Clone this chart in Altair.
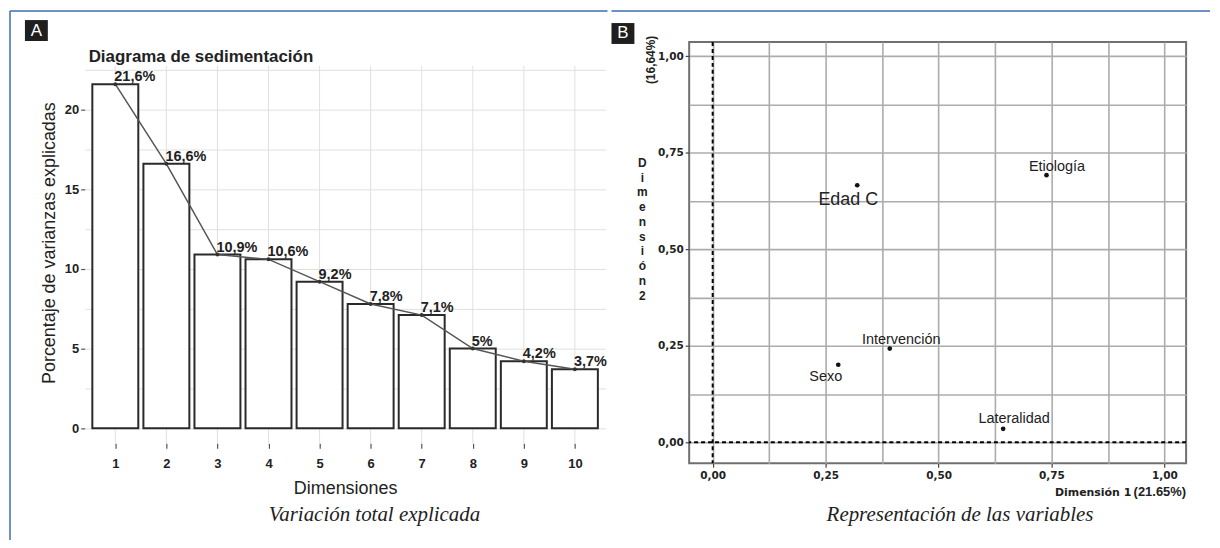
import altair as alt
import pandas as pd

# ---------------- data ----------------
dims = [1, 2, 3, 4, 5, 6, 7, 8, 9, 10]
var_pct = [21.6, 16.6, 10.9, 10.6, 9.2, 7.8, 7.1, 5.0, 4.2, 3.7]
pct_labels = ["21,6%", "16,6%", "10,9%", "10,6%", "9,2%", "7,8%", "7,1%", "5%", "4,2%", "3,7%"]
y_ticks_a = [0, 2.5, 5, 7.5, 10, 12.5, 15, 17.5, 20, 22.5]

var_names = ["Edad C", "Etiología", "Intervención", "Sexo", "Lateralidad"]
dim1 = [0.32, 0.739, 0.392, 0.278, 0.643]
dim2 = [0.666, 0.692, 0.243, 0.201, 0.035]
ticks_b = [0, 0.125, 0.25, 0.375, 0.5, 0.625, 0.75, 0.875, 1.0]

# ---------------- styles ----------------
BORDER = "#3a6db5"
INK = "#222222"
NARROW = "Liberation Sans Narrow, Liberation Sans, Arial Narrow, sans-serif"
SANS = "Liberation Sans, Arial, sans-serif"
WIDE = "DejaVu Sans, Verdana, sans-serif"
SERIF = "Liberation Serif, Times New Roman, serif"

WA, HA = 523, 403
WB, HB = 499, 423

label_style = {
    "Edad C": dict(dx=-9, dy=15, size=18),
    "Etiología": dict(dx=10.5, dy=-8, size=14.5),
    "Intervención": dict(dx=11.5, dy=-8.5, size=14.5),
    "Sexo": dict(dx=-12.5, dy=12.5, size=14.5),
    "Lateralidad": dict(dx=11, dy=-9.5, size=14.5),
}

one = pd.DataFrame({"k": [0]})

# ================= Panel A =================
dfA = pd.DataFrame({"dim": dims, "pct": var_pct, "label": pct_labels})
xA_scale = alt.Scale(domain=[0.4, 10.6], nice=False, zero=False)
yA_scale = alt.Scale(domain=[-0.95, 24.25], nice=False, zero=False)

xA_axis = alt.Axis(values=dims, grid=False, domain=False,
                   tickColor="#555", tickSize=5, tickWidth=1.2,
                   labelFont=NARROW, labelFontSize=13, labelFontWeight="bold", labelColor=INK,
                   labelPadding=9, title="Dimensiones", titleFont=SANS, titleFontSize=18,
                   titleFontWeight="normal", titleColor=INK, titlePadding=9)
yA_axis = alt.Axis(values=y_ticks_a, grid=True, gridColor="#e0e0e0", gridWidth=1, domain=False,
                   tickColor="#555", tickSize=4, tickWidth=1.2,
                   tickOpacity={"condition": {"test": "datum.value % 5 == 0", "value": 1}, "value": 0},
                   labelExpr="datum.value % 5 == 0 ? format(datum.value, 'd') : ''",
                   labelFont=NARROW, labelFontSize=13, labelFontWeight="bold", labelColor=INK,
                   labelPadding=2, title="Porcentaje de varianzas explicadas", titleFont=SANS,
                   titleFontSize=18, titleFontWeight="normal", titleColor=INK, titlePadding=6)

vgridA = alt.Chart(dfA).mark_rule(color="#e0e0e0", strokeWidth=1).encode(
    x=alt.X("dim:Q", scale=xA_scale, axis=xA_axis),
    y=alt.datum(22.75), y2=alt.datum(-0.95))
bars = alt.Chart(dfA).transform_calculate(
    x0="datum.dim - 0.45", x1="datum.dim + 0.45"
).mark_rect(fill="white", stroke="#2a2a2a", strokeWidth=2).encode(
    x=alt.X("x0:Q", scale=xA_scale, axis=xA_axis),
    x2="x1:Q",
    y=alt.Y("pct:Q", scale=yA_scale, axis=yA_axis),
    y2=alt.datum(0),
)
lineA = alt.Chart(dfA).mark_line(color="#555555", strokeWidth=1.5).encode(
    x=alt.X("dim:Q", scale=xA_scale), y=alt.Y("pct:Q", scale=yA_scale))
ptsA = alt.Chart(dfA).mark_circle(size=16, color="#333333", opacity=1).encode(
    x=alt.X("dim:Q", scale=xA_scale), y=alt.Y("pct:Q", scale=yA_scale))
labsA = alt.Chart(dfA).mark_text(align="left", baseline="alphabetic", dx=-1, dy=-3, font=NARROW,
                                 fontSize=14.5, fontWeight="bold", color=INK).encode(
    x=alt.X("dim:Q", scale=xA_scale), y=alt.Y("pct:Q", scale=yA_scale), text="label:N")

titleA = alt.Chart(one).mark_text(align="left", baseline="alphabetic", font=SANS, fontSize=17,
                                  fontWeight="bold", color=INK,
                                  text="Diagrama de sedimentación").encode(
    x=alt.value(4), y=alt.value(20))
capA = alt.Chart(one).mark_text(align="center", baseline="alphabetic", font=SERIF, fontSize=21,
                                fontStyle="italic", color=INK,
                                text="Variación total explicada").encode(
    x=alt.value(291), y=alt.value(481))
boxA = alt.Chart(one).mark_rect(color="#1f1f1f").encode(
    x=alt.value(-60), x2=alt.value(-37), y=alt.value(-22), y2=alt.value(-1))
letA = alt.Chart(one).mark_text(color="white", font=SANS, fontSize=17, align="center",
                                baseline="middle", text="A").encode(
    x=alt.value(-48.5), y=alt.value(-11))
topA = alt.Chart(one).mark_rule(color=BORDER, strokeWidth=1.5).encode(
    x=alt.value(-75), x2=alt.value(525), y=alt.value(-31))
leftA = alt.Chart(one).mark_rule(color=BORDER, strokeWidth=1.5).encode(
    x=alt.value(-75), y=alt.value(-31), y2=alt.value(500))

panelA = alt.layer(vgridA, bars, lineA, ptsA, labsA, titleA, capA, boxA, letA, topA,
                   leftA).properties(width=WA, height=HA)

# ================= Panel B =================
dfB = pd.DataFrame({"name": var_names, "d1": dim1, "d2": dim2})
xB_scale = alt.Scale(domain=[-0.052, 1.048], nice=False, zero=False)
yB_scale = alt.Scale(domain=[-0.054, 1.037], nice=False, zero=False)
major_test = "(datum.value * 4) % 1 == 0"
lab_expr = "(datum.value * 4) % 1 == 0 ? replace(format(datum.value, '.2f'), '.', ',') : ''"

def b_axis(pad):
    return alt.Axis(values=ticks_b, grid=True, gridColor="#acacac", gridWidth=1.6, domain=False,
                    tickColor="#444", tickSize=4, tickWidth=1.2,
                    tickOpacity={"condition": {"test": major_test, "value": 1}, "value": 0},
                    labelExpr=lab_expr, labelFont=WIDE, labelFontSize=10.5,
                    labelFontWeight="bold", labelColor=INK, labelPadding=pad, title=None)

ptsB = alt.Chart(dfB).mark_circle(size=22, color="#111111", opacity=1).encode(
    x=alt.X("d1:Q", scale=xB_scale, axis=b_axis(3)),
    y=alt.Y("d2:Q", scale=yB_scale, axis=b_axis(2)),
)
vdash = alt.Chart(one).mark_rule(color="black", strokeDash=[4, 3], strokeWidth=2).encode(
    x=alt.datum(0))
hdash = alt.Chart(one).mark_rule(color="black", strokeDash=[4, 3], strokeWidth=2).encode(
    y=alt.datum(0))

labsB = []
for n in var_names:
    s = label_style[n]
    labsB.append(
        alt.Chart(dfB).transform_filter(alt.datum.name == n).mark_text(
            align="center", baseline="middle", dx=s["dx"], dy=s["dy"], fontSize=s["size"],
            font=SANS, color=INK).encode(
            x=alt.X("d1:Q", scale=xB_scale), y=alt.Y("d2:Q", scale=yB_scale), text="name:N")
    )

ypct = alt.Chart(one).mark_text(angle=270, font=SANS, fontSize=12, fontWeight="bold", color=INK,
                                align="center", baseline="middle", text="(16,64%)").encode(
    x=alt.value(-38), y=alt.value(18))
ystack = alt.Chart(one).mark_text(lineBreak="\n", lineHeight=14.8, align="center",
                                  baseline="middle", font=SANS, fontSize=12, fontWeight="bold",
                                  color=INK, text="D\ni\nm\ne\nn\ns\ni\nó\nn\n2").encode(
    x=alt.value(-47), y=alt.value(121.5))
xdim = alt.Chart(one).mark_text(align="right", baseline="alphabetic", font=WIDE, fontSize=11,
                                fontWeight="bold", color=INK, text="Dimensión 1").encode(
    x=alt.value(444), y=alt.value(456))
xpct = alt.Chart(one).mark_text(align="right", baseline="alphabetic", font=SANS, fontSize=13,
                                fontWeight="bold", color=INK, text="(21.65%)").encode(
    x=alt.value(WB), y=alt.value(456))
capB = alt.Chart(one).mark_text(align="center", baseline="alphabetic", font=SERIF, fontSize=21,
                                fontStyle="italic", color=INK,
                                text="Representación de las variables").encode(
    x=alt.value(272), y=alt.value(481))
boxB = alt.Chart(one).mark_rect(color="#1f1f1f").encode(
    x=alt.value(-78), x2=alt.value(-55), y=alt.value(-19), y2=alt.value(2))
letB = alt.Chart(one).mark_text(color="white", font=SANS, fontSize=17, align="center",
                                baseline="middle", text="B").encode(
    x=alt.value(-66.5), y=alt.value(-8.5))
topB = alt.Chart(one).mark_rule(color=BORDER, strokeWidth=1.5).encode(
    x=alt.value(-78), x2=alt.value(WB + 24), y=alt.value(-31))

panelB = alt.layer(vdash, hdash, ptsB, *labsB, ypct, ystack, xdim, xpct, capB, boxB, letB,
                   topB).properties(
    width=WB, height=HB, view=alt.ViewBackground(stroke="#707070", strokeWidth=2))

chart = alt.hconcat(panelA, panelB, spacing=0).properties(padding=0).configure_view(
    stroke="transparent")

chart.save("out.html", embed_options={"renderer": "svg", "actions": False})
